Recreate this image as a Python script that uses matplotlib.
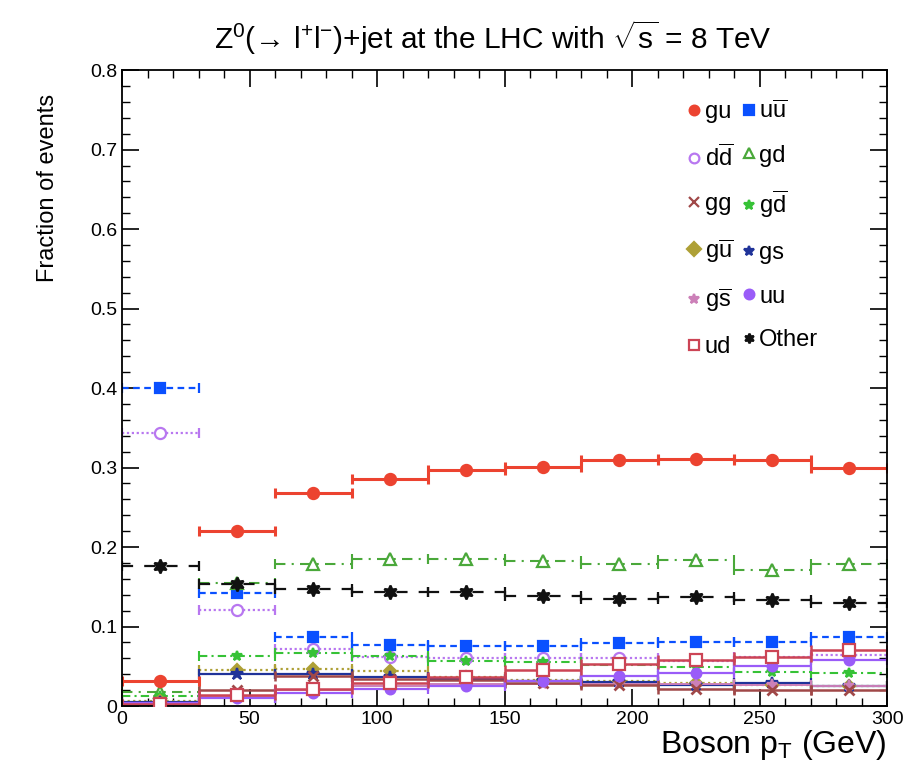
import matplotlib
matplotlib.use("Agg")
import matplotlib.pyplot as plt
from matplotlib.lines import Line2D
from matplotlib.ticker import MultipleLocator, FuncFormatter
import numpy as np

plt.rcParams['font.family'] = ['Liberation Sans', 'DejaVu Sans']
plt.rcParams['mathtext.fontset'] = 'custom'
plt.rcParams['mathtext.rm'] = 'Liberation Sans'
plt.rcParams['mathtext.it'] = 'Liberation Sans:italic'
plt.rcParams['mathtext.bf'] = 'Liberation Sans:bold'

# Bin edges (GeV)
bin_edges = [0, 30, 60, 90, 120, 150, 180, 210, 240, 270, 300]

# Fractions of events per bin
gu     = [0.032, 0.220, 0.268, 0.285, 0.297, 0.301, 0.309, 0.311, 0.310, 0.300]
uubar  = [0.400, 0.142, 0.087, 0.077, 0.076, 0.075, 0.079, 0.080, 0.081, 0.087]
ddbar  = [0.344, 0.121, 0.072, 0.062, 0.060, 0.061, 0.060, 0.057, 0.062, 0.064]
gd     = [0.018, 0.155, 0.179, 0.185, 0.185, 0.183, 0.179, 0.184, 0.171, 0.179]
gg     = [0.002, 0.020, 0.038, 0.034, 0.033, 0.029, 0.026, 0.022, 0.020, 0.020]
gdbar  = [0.012, 0.063, 0.067, 0.063, 0.057, 0.055, 0.051, 0.049, 0.043, 0.042]
gubar  = [0.006, 0.045, 0.046, 0.044, 0.037, 0.033, 0.031, 0.029, 0.027, 0.025]
gs     = [0.005, 0.040, 0.040, 0.036, 0.034, 0.031, 0.030, 0.027, 0.029, 0.025]
gsbar  = [0.002, 0.012, 0.020, 0.025, 0.028, 0.028, 0.028, 0.028, 0.027, 0.025]
uu     = [0.004, 0.010, 0.016, 0.021, 0.025, 0.032, 0.038, 0.042, 0.050, 0.058]
ud     = [0.003, 0.014, 0.022, 0.029, 0.036, 0.045, 0.053, 0.058, 0.062, 0.071]
other  = [0.176, 0.154, 0.147, 0.144, 0.143, 0.138, 0.135, 0.137, 0.133, 0.129]

labels = ['gu', r'u$\overline{\mathrm{u}}$', r'd$\overline{\mathrm{d}}$', 'gd',
          'gg', r'g$\overline{\mathrm{d}}$', r'g$\overline{\mathrm{u}}$', 'gs',
          r'g$\overline{\mathrm{s}}$', 'uu', 'ud', 'Other']

edges = np.array(bin_edges, dtype=float)
centers = 0.5 * (edges[:-1] + edges[1:])
half = 0.5 * (edges[1:] - edges[:-1])

# style: (data, color, marker, mfc, ms, linestyle, lw)
styles = [
    (ddbar, '#b877f0', 'o', 'white', 8, (0, (1, 1.2)), 1.6),
    (uubar, '#0a50ff', 's', None, 7, (0, (3, 2)), 1.6),
    (gd, '#4aa83a', '^', 'white', 8, (0, (5, 3, 1, 3)), 1.5),
    (other, '#111111', (6, 1, 0), None, 10, (0, (5, 5)), 1.6),
    (gdbar, '#36c236', '*', None, 7, (0, (4, 2, 1, 2)), 1.5),
    (gubar, '#aea036', 'D', None, 6, (0, (1, 1.5)), 1.6),
    (gs, '#203399', '*', None, 9, '-', 1.6),
    (gsbar, '#cc80b8', '*', None, 8, '-', 1.4),
    (gg, '#a04848', 'x', None, 7, '-', 1.8),
    (uu, '#9a5cf8', 'o', None, 7, '-', 1.6),
    (ud, '#cc4455', 's', 'white', 8, '-', 1.8),
    (gu, '#ec4330', 'o', None, 8, '-', 2.2),
]

fig = plt.figure(figsize=(9.14, 7.71), dpi=100)
ax = fig.add_axes([0.1335, 0.0843, 0.8370, 0.8247])

for data, color, marker, mfc, ms, ls, lw in styles:
    eb = ax.errorbar(centers, data, xerr=half, fmt='none', ecolor=color,
                     elinewidth=lw, capsize=3.5, capthick=lw, zorder=2)
    eb[2][0].set_linestyle(ls)
    mew = 2.0 if marker == 'x' else 1.6
    ax.plot(centers, data, linestyle='none', marker=marker, color=color,
            markersize=ms, markerfacecolor=(mfc if mfc else color),
            markeredgecolor=color, markeredgewidth=mew, zorder=3)

ax.set_xlim(0, 300)
ax.set_ylim(0, 0.8)
ax.xaxis.set_major_locator(MultipleLocator(50))
ax.xaxis.set_minor_locator(MultipleLocator(10))
ax.yaxis.set_major_locator(MultipleLocator(0.1))
ax.yaxis.set_minor_locator(MultipleLocator(0.02))
ax.yaxis.set_major_formatter(FuncFormatter(lambda v, p: '0' if abs(v) < 1e-9 else f'{v:.1f}'))
ax.tick_params(which='both', direction='in', top=True, right=True, labelsize=14)
ax.tick_params(which='major', length=12, width=1.2)
ax.tick_params(which='minor', length=6, width=1.0)
for sp in ax.spines.values():
    sp.set_linewidth(1.3)

ax.set_xlabel(r'Boson p$_{\mathrm{T}}$ (GeV)', fontsize=23, loc='right', labelpad=0)
ax.set_ylabel('Fraction of events', fontsize=17)
ax.yaxis.set_label_coords(-0.082, 0.814)
fig.text(0.539, 0.951,
         r'Z$^{0}$(→ l$^{+}$l$^{-}$)+jet at the LHC with $\sqrt{\mathrm{s}}$ = 8 TeV',
         ha='center', va='center', fontsize=21.5)

leg_data = [
    ('gu', '#ec4330', 'o', None), ('uubar', '#0a50ff', 's', None),
    ('ddbar', '#b877f0', 'o', 'white'), ('gd', '#4aa83a', '^', 'white'),
    ('gg', '#a04848', 'x', None), ('gdbar', '#36c236', '*', None),
    ('gubar', '#aea036', 'D', None), ('gs', '#203399', '*', None),
    ('gsbar', '#cc80b8', '*', None), ('uu', '#9a5cf8', 'o', None),
    ('ud', '#cc4455', 's', 'white'), ('Other', '#111111', (6, 1, 0), None),
]
handles = []
for (_, c, m, mfc), lab in zip(leg_data, labels):
    handles.append(Line2D([], [], linestyle='none', marker=m, color=c,
                          markersize=7, markerfacecolor=(mfc if mfc else c),
                          markeredgecolor=c, markeredgewidth=1.6, label=lab))
left_col = handles[0::2]
right_col = handles[1::2]
ax.legend(left_col + right_col, [h.get_label() for h in left_col + right_col],
          ncol=2, loc='upper left', bbox_to_anchor=(0.728, 0.968),
          frameon=False, fontsize=17, handlelength=0.5, handletextpad=0.2,
          columnspacing=0.4, labelspacing=0.92, borderaxespad=0)

fig.savefig('out.png', dpi=100)
